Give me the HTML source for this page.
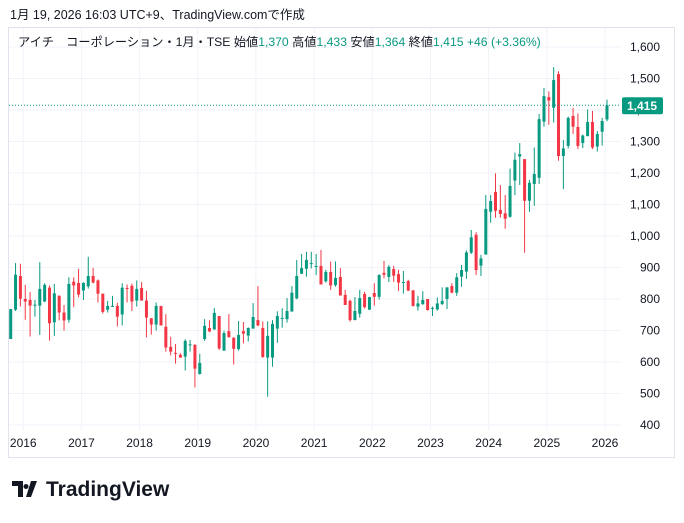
<!DOCTYPE html>
<html><head><meta charset="utf-8">
<style>
body{margin:0;background:#fff;width:684px;height:518px;overflow:hidden;font-family:"Liberation Sans","Noto Sans CJK JP",sans-serif;}
svg text{font-family:"Liberation Sans","Noto Sans CJK JP",sans-serif;}
</style></head>
<body>
<svg id="chart" width="684" height="518" xmlns="http://www.w3.org/2000/svg">
<text x="10" y="19" font-size="12.5" fill="#131722">1月 19, 2026 16:03 UTC+9、TradingView.comで作成</text>
<rect x="8.5" y="27.5" width="666" height="430" fill="none" stroke="#e0e3eb"/>
<g id="grid"></g>
<g id="candles"></g>
<g id="yaxis"></g>
<g id="xaxis"></g>
<text x="18" y="46" font-size="12.2" fill="#131722">アイチ　コーポレーション・1月・TSE <tspan>始値</tspan><tspan fill="#089981">1,370</tspan>  <tspan>高値</tspan><tspan fill="#089981">1,433</tspan>  <tspan>安値</tspan><tspan fill="#089981">1,364</tspan>  <tspan>終値</tspan><tspan fill="#089981">1,415</tspan>  <tspan fill="#089981">+46 (+3.36%)</tspan></text>
<g>
<path d="M12 481h11v16h-5v-11h-6z M26 484a2.5 2.5 0 1 0 0.01 0z M31 481h6l-6 16h-5z" fill="#131722"/>
<text x="46" y="496" font-size="21" font-weight="bold" fill="#131722">TradingView</text>
</g>
</svg>
<script>
const years = ["2016","2017","2018","2019","2020","2021","2022","2023","2024","2025","2026"];
const yTicks = [400,500,600,700,800,900,1000,1100,1200,1300,1400,1500,1600];
const opens = [673,766,873,800,797,781,779,792,836,726,810,757,734,855,851,827,840,873,859,817,766,776,778,751,835,842,795,835,795,739,719,778,712,648,629,623,617,654,654,562,673,708,703,746,636,698,677,641,698,684,706,733,708,614,614,706,738,736,760,802,880,896,912,903,905,856,886,844,870,813,794,733,753,816,766,819,807,883,870,895,879,852,857,827,776,784,800,770,767,784,800,841,820,871,887,947,1004,906,941,1077,1140,1083,1072,1061,1176,1252,1244,1112,1165,1185,1363,1441,1407,1514,1254,1286,1381,1346,1295,1317,1362,1284,1331,1370];
const highs = [768,914,912,845,822,797,917,850,843,848,812,781,869,869,896,853,934,899,862,817,794,810,788,850,846,849,859,854,826,739,789,778,752,680,657,628,672,670,657,626,736,732,771,746,699,752,679,730,727,710,787,841,729,729,733,761,771,803,841,924,943,950,950,943,956,893,919,919,898,829,798,806,829,823,807,850,879,921,908,905,893,889,861,829,810,825,800,776,805,837,837,850,882,908,954,1019,1012,940,1130,1130,1199,1162,1130,1214,1265,1295,1244,1178,1281,1387,1470,1459,1536,1523,1305,1379,1407,1389,1322,1402,1397,1333,1375,1433];
const lows = [673,762,776,734,681,744,686,790,668,683,732,700,725,774,805,797,833,850,789,754,757,776,713,716,789,762,776,795,678,687,700,716,633,621,595,614,573,633,519,560,667,695,703,638,636,677,592,636,659,665,706,714,613,490,585,661,709,725,760,799,880,871,897,876,846,852,829,839,811,781,728,733,741,770,766,779,798,866,854,854,825,817,825,776,763,781,763,746,763,781,768,818,810,839,864,943,876,873,941,1042,1058,1058,1023,1058,1130,1162,947,1077,1096,1165,1347,1353,1360,1239,1149,1278,1324,1276,1279,1317,1276,1268,1287,1364];
const closes = [768,877,801,792,779,782,832,845,723,818,757,732,848,843,814,851,873,852,817,759,778,778,744,836,833,792,832,795,741,719,778,716,646,633,627,614,667,656,579,597,715,697,756,643,692,679,642,686,690,708,743,716,616,683,721,746,740,762,820,873,898,924,914,905,846,886,843,867,811,781,733,762,803,774,806,807,876,877,902,874,852,854,827,778,786,797,765,772,786,794,837,820,869,892,948,996,892,929,1086,1111,1080,1070,1055,1159,1242,1260,1112,1169,1197,1371,1444,1430,1495,1254,1278,1375,1347,1286,1319,1362,1281,1324,1365,1415];
const lastPrice = 1415;

const NS = "http://www.w3.org/2000/svg";
const yOf = p => 47 + (1600 - p) * 0.315;
const xOf = i => 10.7 + i * 4.848;
const yearX = k => xOf(3 + 12 * k);
function mk(tag, attrs, parent){const e=document.createElementNS(NS,tag);for(const k in attrs)e.setAttribute(k,attrs[k]);parent.appendChild(e);return e;}
const grid=document.getElementById('grid'), cg=document.getElementById('candles'), ya=document.getElementById('yaxis'), xa=document.getElementById('xaxis');
const L=9, R=621, T=28, B=430;
yTicks.forEach(v=>{
  const y=yOf(v);
  const g=mk('line',{x1:L,x2:R,y1:y,y2:y,stroke:'#f0f3fa','stroke-width':1},grid);
  
  
  const t=mk('text',{x:660,y:y+4,'font-size':12,fill:'#131722','text-anchor':'end'},ya);
  t.textContent=v.toLocaleString('en-US');
  
  
});
years.forEach((yr,k)=>{
  const x=yearX(k)-2;
  const g=mk('line',{x1:x,x2:x,y1:T,y2:B,stroke:'#f0f3fa','stroke-width':1},grid);
  
  
  const t=mk('text',{x:x,y:447,'font-size':12,fill:'#131722','text-anchor':'middle'},xa);
  t.textContent=yr;
  
  
});
opens.forEach((o,i)=>{
  const c=closes[i], up=c>=o, col=up?'#089981':'#f23645', x=xOf(i);
  const w=mk('line',{x1:x,x2:x,y1:yOf(highs[i]),y2:yOf(lows[i]),stroke:col,'stroke-width':1},cg);
  
  
  const top=yOf(Math.max(o,c)), h=Math.max(1,yOf(Math.min(o,c))-top);
  const b=mk('rect',{x:x-1.5,y:top,width:3,height:h,fill:col},cg);
  
  
});
const ly=yOf(lastPrice);
const pl=mk('line',{x1:L,x2:R,y1:ly,y2:ly,stroke:'#089981','stroke-width':1,'stroke-dasharray':'1 2'},cg);


const pb=mk('rect',{x:622,y:ly-8,width:41,height:17,rx:2,fill:'#089981'},ya);


const pt=mk('text',{x:642,y:ly+4.5,'font-size':12,'font-weight':'bold',fill:'#fff','text-anchor':'middle'},ya);
pt.textContent=lastPrice.toLocaleString('en-US');


</script>
</body></html>
